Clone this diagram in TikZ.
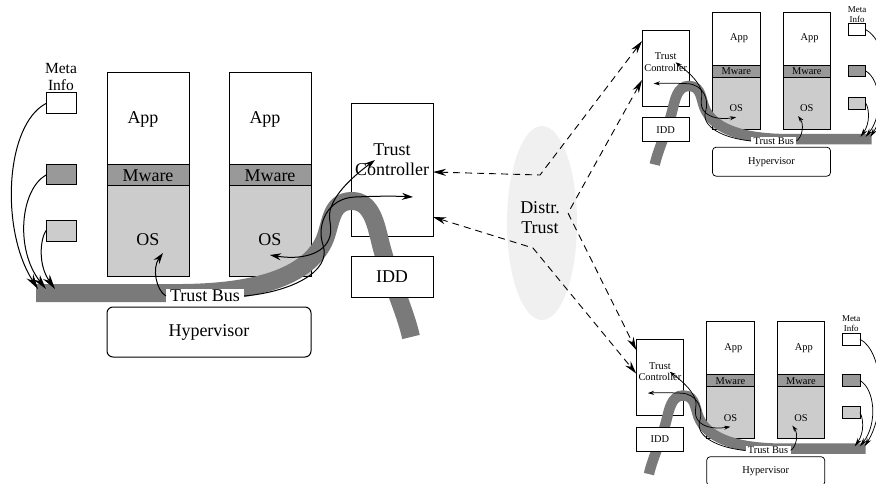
\documentclass[tikz,border=0pt]{standalone}
\usepackage{fontspec}
\setmainfont{Liberation Serif}
\usetikzlibrary{arrows.meta,shapes.geometric}
\definecolor{busgray}{gray}{0.48}
\definecolor{mwgray}{gray}{0.6}
\definecolor{osgray}{gray}{0.8}
\definecolor{distrgray}{gray}{0.94}

% #1 prefix, #2 scope options, #3 scale, #4 trust-bus label y, #5 near anchor, #6 far anchor
\newcommand\hostgroup[6]{%
\begin{scope}[#2]
\pgfmathsetmacro\hgfs{18*#3}\pgfmathsetmacro\hgbs{20*#3}%
\pgfmathsetmacro\hgms{15.5*#3}\pgfmathsetmacro\hgmb{17*#3}%
\pgfmathsetmacro\hglw{0.4+0.6*#3}%
\pgfmathsetmacro\hgbw{18*#3}%
\pgfmathsetmacro\hgal{11*#3}\pgfmathsetmacro\hgaw{7*#3}%
\pgfmathsetmacro\hgml{15*#3}\pgfmathsetmacro\hgmw{8*#3}%
\pgfmathsetmacro\hgrc{6*#3}%
\tikzset{
  hgbox/.style={draw, line width=\hglw pt, inner sep=0pt, outer sep=0pt},
  hgtxt/.style={font=\fontsize{\hgfs}{\hgbs}\selectfont, inner sep=0pt, align=center},
  hgmeta/.style={font=\fontsize{\hgms}{\hgmb}\selectfont, inner sep=0pt, align=center},
  hgline/.style={line width=\hglw pt},
  hgtip/.style={-{Stealth[length=\hgal pt, width=\hgaw pt]}},
  hgtwo/.style={{Stealth[length=\hgal pt, width=\hgaw pt]}-{Stealth[length=\hgal pt, width=\hgaw pt]}},
  hgmtip/.style={-{Stealth[length=\hgml pt, width=\hgmw pt]}},
}
% boxes
\node[hgbox, fill=white, minimum width=82pt*#3, minimum height=132pt*#3] (#1-tc) at (392,170) {};
\node[hgbox, fill=white, minimum width=82pt*#3, minimum height=92pt*#3] (#1-app1) at (148,119) {};
\node[hgbox, fill=mwgray, minimum width=82pt*#3, minimum height=21pt*#3, hgtxt] (#1-mw1) at (148,175.5) {Mware};
\node[hgbox, fill=osgray, minimum width=82pt*#3, minimum height=90pt*#3] (#1-os1) at (148,231) {};
\node[hgbox, fill=white, minimum width=82pt*#3, minimum height=92pt*#3] (#1-app2) at (270,119) {};
\node[hgbox, fill=mwgray, minimum width=82pt*#3, minimum height=21pt*#3, hgtxt] (#1-mw2) at (270,175.5) {Mware};
\node[hgbox, fill=osgray, minimum width=82pt*#3, minimum height=90pt*#3] (#1-os2) at (270,231) {};
\node[hgbox, rounded corners=\hgrc pt, minimum width=204pt*#3, minimum height=50pt*#3, hgtxt] (#1-hyp) at (209,332) {Hypervisor};
\node[hgbox, fill=white, minimum width=30pt*#3, minimum height=21pt*#3] (#1-m1) at (61,103.5) {};
\node[hgbox, fill=mwgray, minimum width=30pt*#3, minimum height=20pt*#3] (#1-m2) at (61,175) {};
\node[hgbox, fill=osgray, minimum width=30pt*#3, minimum height=21pt*#3] (#1-m3) at (61,230.5) {};
% trust bus band
\draw[busgray, line width=\hgbw pt] (36,293) -- (170,293)
  .. controls (260,294) and (305,275) .. (322,245)
  .. controls (332,228) and (328,201) .. (352,201)
  .. controls (372,201) and (376,225) .. (381,245)
  .. controls (390,280) and (405,310) .. (411,337);
\node[hgbox, fill=white, minimum width=82pt*#3, minimum height=41pt*#3, hgtxt] (#1-idd) at (392,276.5) {IDD};
% texts
\node[hgtxt] (#1-tct) at (392,160) {Trust\\Controller};
\node[hgtxt] (#1-appt1) at (143,119) {App};
\node[hgtxt] (#1-appt2) at (265,119) {App};
\node[hgtxt] (#1-ost1) at (148,240) {OS};
\node[hgtxt] (#1-ost2) at (270,240) {OS};
\node[hgmeta] (#1-meta) at (61,77) {Meta\\Info};
\node[hgtxt, fill=white, inner xsep=4pt*#3, inner ysep=1.5pt*#3] (#1-tb) at (205,#4) {Trust Bus};
% connector end points
\coordinate (#1-os1pt) at (163,253);
\coordinate (#1-os2pt) at (270,255);
\coordinate (#1-tcpt1) at (413,197);
\coordinate (#1-tcpt2) at (375,160);
\coordinate (#1-bus1) at (38,289);
\coordinate (#1-bus2) at (46,289);
\coordinate (#1-bus3) at (55,289);
% meta arrows
\draw[hgline, hgmtip] (#1-m1.#5) .. controls (5,125) and (0,230) .. (#1-bus1);
\draw[hgline, hgmtip] (#1-m2.#5) .. controls (20,190) and (15,250) .. (#1-bus2);
\draw[hgline, hgmtip] (#1-m3.#5) .. controls (40,240) and (38,265) .. (#1-bus3);
% bus arrows
\draw[hgline, hgtip] (#1-tb.#5) .. controls (156,290) and (152,268) .. (#1-os1pt);
\draw[hgline, hgtip] (#1-tb.#6) .. controls (290,292) and (332,272) .. (323,245)
  .. controls (316,224) and (328,198) .. (355,197)
  .. controls (378,196) and (396,196) .. (#1-tcpt1);
\draw[hgline, hgtwo] (#1-os2pt) .. controls (300,260) and (325,255) .. (330,236)
  .. controls (333,224) and (326,218) .. (332,205)
  .. controls (338,190) and (355,175) .. (#1-tcpt2);
\end{scope}}

\begin{document}
\begin{tikzpicture}[x=1pt,y=-1pt,
  dashline/.style={line width=0.9pt, dash pattern=on 7pt off 5pt,
    {Stealth[length=13pt,width=7pt]}-{Stealth[length=13pt,width=7pt]}}]
\useasboundingbox (0,0) rectangle (876,484);
\node[ellipse, fill=distrgray, minimum width=70pt, minimum height=194pt, inner sep=0pt] (distr) at (542,223) {};
\hostgroup{L}{}{1}{296}{west}{east}
\hostgroup{T}{shift={(892.3,-30.2)},xscale=-0.578,yscale=0.578}{0.578}{296}{east}{west}
\hostgroup{B}{shift={(886.5,279.3)},xscale=-0.578,yscale=0.578}{0.578}{296}{east}{west}
\node[font=\fontsize{18}{20}\selectfont, align=center, inner sep=0pt] (distrtxt) at (540,218) {Distr.\\Trust};
\draw[dashline] ([yshift=27pt]T-tc.west) -- (540,175) -- ([yshift=-2pt]L-tc.east);
\draw[dashline] ([yshift=-12pt]T-tc.west) -- (568,213) -- ([yshift=27.5pt]B-tc.west);
\draw[dashline] ([yshift=-47pt]L-tc.east) -- (533,248) -- ([yshift=4pt]B-tc.west);
\end{tikzpicture}
\end{document}
